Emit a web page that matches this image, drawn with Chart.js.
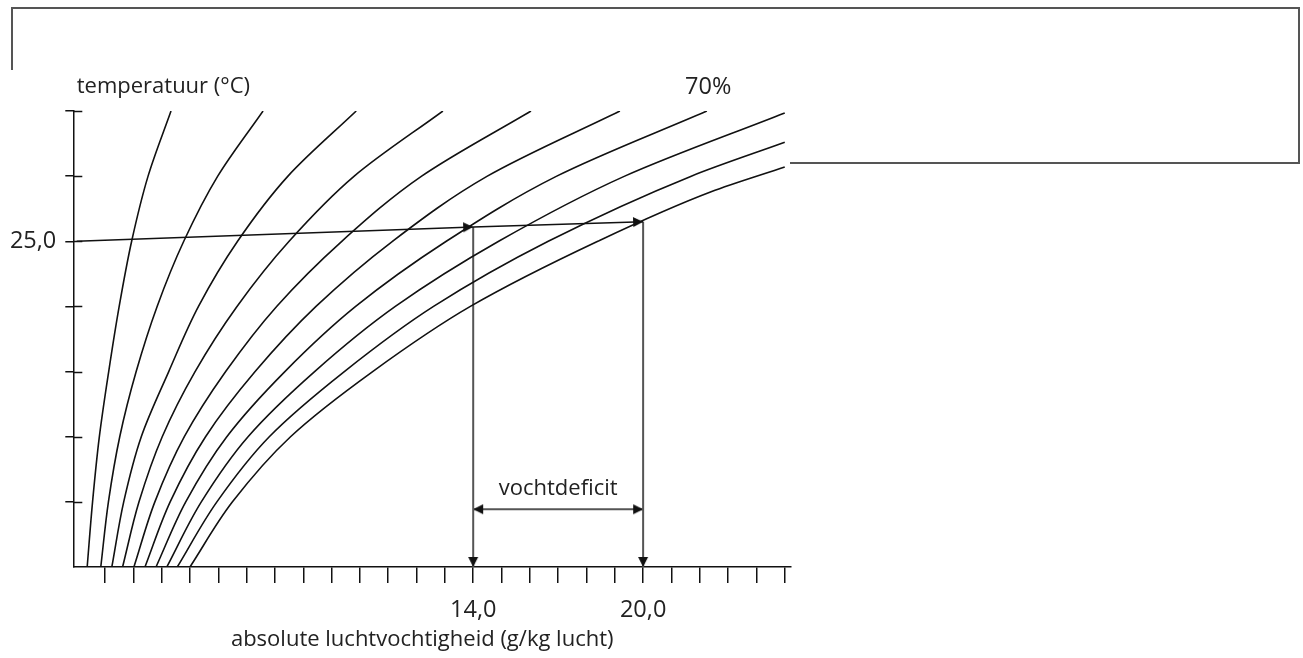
<!DOCTYPE html>
<html>
<head>
<meta charset="utf-8">
<script src="https://cdn.jsdelivr.net/npm/chart.js@4.4.0/dist/chart.umd.min.js"></script>
<style>
  html, body { margin: 0; padding: 0; background: #fff; }
  body { width: 1303px; height: 658px; position: relative; overflow: hidden; }
  .frame { position: absolute; left: 11px; top: 7px; width: 1285px; height: 153px; border: 2px solid #555; }
  .cover { position: absolute; left: 0; top: 70px; width: 790px; height: 588px; background: #fff; }
  .chart-container { position: absolute; left: 0; top: 0; width: 1303px; height: 658px; }
</style>
</head>
<body>
<div class="frame"></div>
<div class="cover"></div>
<div class="chart-container"><canvas id="chart"></canvas></div>
<script>
const rhLabels = ['10%', '20%', '30%', '40%', '50%', '60%', '70%', '80%', '90%', '100%'];
const tempSteps = [0, 5, 10, 15, 20, 25, 30, 35];
const hum10 = [0.37, 0.56, 0.80, 1.13, 1.50, 1.94, 2.52, 3.33];
const hum20 = [0.85, 1.12, 1.52, 2.10, 2.84, 3.78, 4.98, 6.58];
const hum30 = [1.24, 1.66, 2.28, 3.25, 4.30, 5.68, 7.46, 9.87];
const hum40 = [1.62, 2.20, 3.02, 4.18, 5.66, 7.50, 9.80, 12.93];
const hum50 = [2.02, 2.76, 3.80, 5.26, 7.06, 9.36, 12.18, 16.04];
const hum60 = [2.41, 3.30, 4.55, 6.30, 8.45, 11.15, 14.50, 19.18];
const hum70 = [2.80, 3.85, 5.30, 7.35, 9.85, 13.05, 16.95, 22.25];
// the wettest lines leave the chart through the right edge (25 g/kg)
const temp80 = [0, 5, 10, 15, 20, 25, 30, 34.85];
const hum80 = [3.18, 4.40, 6.05, 8.40, 11.25, 14.90, 19.35, 25.0];
const temp90 = [0, 5, 10, 15, 20, 25, 30, 32.6];
const hum90 = [3.55, 4.95, 6.80, 9.45, 12.60, 16.65, 21.70, 25.0];
const temp100 = [0, 5, 10, 15, 20, 25, 28.8, 30.7];
const hum100 = [4.00, 5.50, 7.55, 10.45, 13.90, 18.40, 22.40, 25.0];

// the 25 °C reading and the moisture deficit between 70% and 100%
const pointerHums = [0, 14.0, 20.0];
const pointerTemps = [25.0, 26.1, 26.5];
const deficitHums = [14.0, 20.0];
const deficitTemp = 4.43;

// tick labels
const xLabelTicks = [14, 20];
const xLabelTexts = ['14,0', '20,0'];
const yLabelTicks = [25];
const yLabelTexts = ['25,0'];

const curves = [
  [tempSteps, hum10], [tempSteps, hum20], [tempSteps, hum30], [tempSteps, hum40],
  [tempSteps, hum50], [tempSteps, hum60], [tempSteps, hum70],
  [temp80, hum80], [temp90, hum90], [temp100, hum100],
];

const INK = '#111';
const GREY = '#555';
const FAMILY = '"Open Sans", "DejaVu Sans", sans-serif';
const TEXT_FONT = { family: FAMILY, size: 22 };
const NUM_FONT = { family: FAMILY, size: 23.5 };

function arrowHead(color) {
  // tip sits in the middle of the image so that it lands on the data point
  const len = 10, half = 5, size = 2 * len + 4;
  const c = document.createElement('canvas');
  c.width = c.height = size;
  const g = c.getContext('2d');
  const m = size / 2;
  g.fillStyle = color;
  g.beginPath();
  g.moveTo(m, m);
  g.lineTo(m - len, m - half);
  g.lineTo(m - len, m + half);
  g.closePath();
  g.fill();
  return c;
}
const headInk = arrowHead(INK);

const datasets = curves.map(([t, h], i) => ({
  label: rhLabels[i],
  data: h.map((v, j) => ({ x: v, y: t[j] })),
  indexAxis: 'y', // humidity as a smooth function of temperature
  showLine: true,
  borderColor: INK,
  borderWidth: 1.6,
  cubicInterpolationMode: 'monotone',
  pointRadius: 0,
}));

datasets.push({
  label: 'pointer',
  data: pointerHums.map((v, j) => ({ x: v, y: pointerTemps[j] })),
  showLine: true,
  borderColor: INK,
  borderWidth: 1.5,
  pointRadius: [0, 4, 4],
  pointStyle: ['circle', headInk, headInk],
  rotation: [0, -2, -2],
  clip: false,
});

pointerHums.slice(1).forEach((v, j) => {
  datasets.push({
    label: 'drop ' + v,
    data: [{ x: v, y: pointerTemps[j + 1] }, { x: v, y: 0 }],
    showLine: true,
    borderColor: GREY,
    borderWidth: 2,
    pointRadius: [0, 4],
    pointStyle: ['circle', headInk],
    rotation: [0, 90],
    clip: false,
  });
});

datasets.push({
  label: 'vochtdeficit',
  data: deficitHums.map(v => ({ x: v, y: deficitTemp })),
  showLine: true,
  borderColor: GREY,
  borderWidth: 2,
  pointRadius: 4,
  pointStyle: headInk,
  rotation: [180, 0],
  clip: false,
});

// texts placed in chart units
const notes = [
  { text: 'temperatuur (°C)', x: 0, y: 36.85, align: 'left', font: TEXT_FONT },
  { text: '70%', x: 22.3, y: 36.85, align: 'center', font: NUM_FONT },
  { text: 'vochtdeficit', x: 17.0, y: 6.0, align: 'center', font: TEXT_FONT },
  { text: 'absolute luchtvochtigheid (g/kg lucht)', x: 12.2, y: -5.6, align: 'center', font: TEXT_FONT },
];

const extras = {
  id: 'extras',
  afterDraw(chart) {
    const { ctx, chartArea, scales: { x, y } } = chart;
    ctx.save();
    // temperature ticks cross the axis
    ctx.strokeStyle = INK;
    ctx.lineWidth = 1.5;
    y.ticks.forEach(t => {
      if (t.value === 0) return;
      const py = Math.round(y.getPixelForValue(t.value)) + 0.5;
      ctx.beginPath();
      ctx.moveTo(chartArea.left, py);
      ctx.lineTo(chartArea.left + 9, py);
      ctx.stroke();
    });
    ctx.fillStyle = '#222';
    ctx.textBaseline = 'middle';
    notes.forEach(n => {
      ctx.font = n.font.size + 'px ' + n.font.family;
      ctx.textAlign = n.align;
      ctx.fillText(n.text, x.getPixelForValue(n.x), y.getPixelForValue(n.y));
    });
    ctx.restore();
  },
};

const hideZero = ctx => (ctx.tick && ctx.tick.value === 0 ? 'rgba(0,0,0,0)' : INK);

new Chart(document.getElementById('chart'), {
  type: 'scatter',
  data: { datasets },
  options: {
    responsive: true,
    maintainAspectRatio: false,
    animation: false,
    events: [],
    layout: { padding: { left: 0, top: 111, right: 512.6, bottom: 0 } },
    plugins: { legend: { display: false }, tooltip: { enabled: false } },
    scales: {
      x: {
        type: 'linear',
        min: -0.12,
        max: 25.2,
        border: { display: true, color: INK, width: 1.5 },
        grid: { drawOnChartArea: false, tickLength: 16, lineWidth: 1.5, color: hideZero },
        ticks: {
          stepSize: 1,
          includeBounds: false,
          autoSkip: false,
          maxRotation: 0,
          padding: 13,
          color: '#222',
          font: NUM_FONT,
          callback: v => {
            const i = xLabelTicks.indexOf(v);
            return i < 0 ? '' : xLabelTexts[i];
          },
        },
        afterFit(s) { s.height = 91; },
      },
      y: {
        type: 'linear',
        min: 0,
        max: 35,
        border: { display: true, color: INK, width: 1.5 },
        grid: { drawOnChartArea: false, tickLength: 8, lineWidth: 1.5, color: hideZero },
        ticks: {
          stepSize: 5,
          autoSkip: false,
          padding: 9,
          color: '#222',
          font: NUM_FONT,
          callback: v => {
            const i = yLabelTicks.indexOf(v);
            return i < 0 ? '' : yLabelTexts[i];
          },
        },
        afterFit(s) { s.width = 73.3; },
      },
    },
  },
  plugins: [extras],
});
</script>
</body>
</html>
